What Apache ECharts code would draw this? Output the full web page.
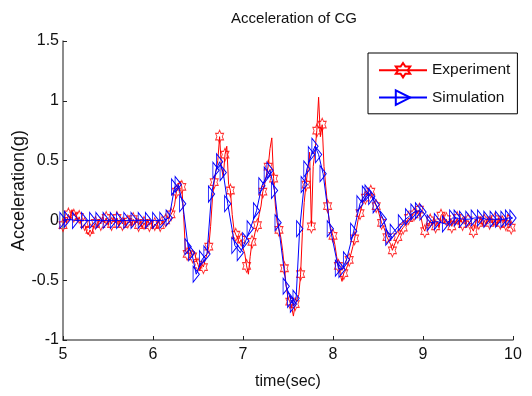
<!DOCTYPE html>
<html>
<head>
<meta charset="utf-8">
<script src="https://cdn.jsdelivr.net/npm/echarts@6/dist/echarts.min.js"></script>
<style>html,body{margin:0;padding:0;background:#fff}#c{width:532px;height:396px}</style>
</head>
<body>
<div id="c"></div>
<script>
// Experiment: sampled every 0.02 s starting at 5.00 s
const expStart = 5.0;
const expStep = 0.02;
const expValues = [
  -0.04,0.03,-0.02,0.05,0.02,0.09,0.04,0.06,-0.01,0.03,
  -0.03,-0.06,-0.03,-0.09,-0.12,-0.08,-0.11,-0.05,-0.02,-0.05,
  0.01,-0.03,0.03,-0.02,0.02,-0.04,0.01,-0.03,0.03,-0.02,
  0.02,-0.05,0.01,-0.03,0.02,-0.04,-0.01,0.02,-0.05,0.01,
  -0.03,0.02,-0.04,-0.01,-0.06,-0.02,-0.05,0.01,-0.04,-0.02,
  -0.06,-0.03,-0.05,-0.01,-0.04,-0.02,-0.03,0.00,-0.01,0.03,
  0.05,0.08,0.13,0.24,0.30,0.33,0.28,0.05,-0.25,-0.28,
  -0.22,-0.27,-0.30,-0.26,-0.33,-0.37,-0.42,-0.36,-0.39,-0.33,
  -0.28,-0.22,-0.05,0.18,0.32,0.42,0.50,0.70,0.45,0.36,
  0.55,0.62,0.30,0.25,0.05,-0.08,-0.12,-0.15,-0.19,-0.16,
  -0.23,-0.28,-0.38,-0.45,-0.30,-0.18,-0.15,-0.08,-0.04,0.05,
  0.12,0.24,0.30,0.38,0.45,0.60,0.69,0.35,0.12,-0.02,
  -0.08,-0.14,-0.25,-0.40,-0.55,-0.65,-0.68,-0.72,-0.80,-0.70,
  -0.66,-0.62,-0.45,-0.10,0.15,0.30,0.42,0.57,-0.05,0.45,
  0.58,0.75,1.03,0.70,0.80,0.45,0.28,0.12,-0.02,-0.08,
  -0.13,-0.20,-0.30,-0.38,-0.45,-0.51,-0.44,-0.42,-0.38,-0.33,
  -0.28,-0.22,-0.15,-0.08,0.01,0.06,0.12,0.16,0.19,0.24,
  0.21,0.24,0.19,0.20,0.12,0.09,0.03,-0.02,-0.05,-0.09,
  -0.14,-0.17,-0.20,-0.25,-0.21,-0.17,-0.14,-0.11,-0.08,-0.06,
  -0.04,-0.01,0.02,0.00,0.04,0.05,0.08,0.06,0.09,0.02,
  -0.06,-0.09,-0.03,-0.05,0.00,-0.04,0.02,-0.05,-0.01,-0.06,
  0.04,0.06,-0.02,0.01,-0.04,0.02,-0.05,0.00,-0.03,0.02,
  -0.04,0.01,-0.03,0.03,-0.02,0.00,-0.04,-0.06,-0.09,-0.03,
  0.01,-0.02,0.03,-0.04,0.00,-0.03,0.02,-0.02,0.03,-0.04,
  0.01,-0.05,0.02,-0.02,0.04,0.01,-0.03,0.05,0.03,-0.06,
  -0.08
];
const expMarkerEvery = 3;

// Simulation: solver output points
const simTime = [
  5.00,5.05,5.14,5.24,5.33,5.40,5.48,5.56,5.63,5.71,5.79,5.87,5.95,6.03,6.11,6.18,
  6.24,6.28,6.33,6.39,6.43,6.48,6.55,6.60,6.65,6.70,6.74,6.78,6.83,6.91,6.97,7.03,
  7.08,7.15,7.21,7.27,7.30,7.35,7.39,7.48,7.53,7.56,7.59,7.63,7.68,7.71,7.76,7.80,
  7.84,7.89,7.97,8.06,8.10,8.15,8.23,8.30,8.36,8.39,8.43,8.48,8.56,8.62,8.67,8.76,
  8.84,8.90,8.95,9.00,9.08,9.16,9.25,9.33,9.38,9.44,9.51,9.57,9.64,9.71,9.78,9.84,
  9.90,9.95,10.00
];
const simValues = [
  0.00,0.01,0.00,0.00,0.00,0.00,0.00,0.00,0.00,0.00,0.00,0.00,0.00,0.00,0.00,0.02,
  0.28,0.30,0.14,-0.22,-0.27,-0.45,-0.32,-0.28,0.22,0.42,0.49,0.40,0.14,-0.21,-0.27,-0.17,
  -0.07,0.08,0.29,0.38,0.42,0.25,-0.02,-0.55,-0.66,-0.70,-0.65,-0.07,0.30,0.43,0.55,0.62,
  0.55,0.39,-0.07,-0.40,-0.41,-0.33,-0.09,0.14,0.22,0.23,0.20,0.13,0.01,-0.14,-0.10,-0.02,
  0.03,0.07,0.08,0.07,-0.02,-0.01,-0.03,0.02,0.02,0.01,0.01,0.02,0.02,0.01,0.01,0.01,
  0.01,0.02,0.02
];

const xTicks = [5,6,7,8,9,10];
const yTicks = [-1,-0.5,0,0.5,1,1.5];
const titleText = 'Acceleration of CG';
const xName = 'time(sec)';
const yName = 'Acceleration(g)';
const seriesNames = ['Experiment','Simulation'];

const expData = expValues.map((v,i)=>[+(expStart + i*expStep).toFixed(2), v]);
const expMarkers = expData.filter((d,i)=> i % expMarkerEvery === 0);
const simData = simTime.map((t,i)=>[t, simValues[i]]);

const HEX = 'path://M50,0L66.67,40L100,40L83.33,80L100,120L66.67,120L50,160L33.33,120L0,120L16.67,80L0,40L33.33,40Z';
const TRI = 'path://M0,0L10,8L0,16Z';
const FONT = '"Liberation Sans",Arial,sans-serif';

const chart = echarts.init(document.getElementById('c'), null, {renderer:'canvas'});
chart.setOption({
  animation:false,
  backgroundColor:'#fff',
  title:{text:titleText,left:289,top:6,textAlign:'center',
    textStyle:{fontFamily:FONT,fontSize:15,fontWeight:'normal',color:'#111'}},
  legend:{
    data:seriesNames, orient:'vertical', left:368, top:53,
    padding:[9,7,8,10], itemWidth:48, itemHeight:18, itemGap:11,
    borderColor:'#000', borderWidth:1, backgroundColor:'#fff',
    textStyle:{fontFamily:FONT,fontSize:15.5,color:'#111'}
  },
  grid:{left:63,right:19,top:41,bottom:56,containLabel:false,outerBoundsMode:'none'},
  xAxis:{
    type:'value',min:xTicks[0],max:xTicks[xTicks.length-1],interval:1,
    name:xName,nameLocation:'middle',nameGap:34,nameMoveOverlap:false,
    nameTextStyle:{fontFamily:FONT,fontSize:16,color:'#111'},
    axisLine:{show:true,onZero:false,lineStyle:{color:'#666',width:1.5}},
    axisTick:{show:true,inside:true,length:4,lineStyle:{color:'#222'}},
    axisLabel:{fontFamily:FONT,fontSize:16,color:'#111',margin:7},
    splitLine:{show:false}
  },
  yAxis:{
    type:'value',min:yTicks[0],max:yTicks[yTicks.length-1],interval:0.5,
    name:yName,nameLocation:'middle',nameGap:35,nameMoveOverlap:false,
    nameTextStyle:{fontFamily:FONT,fontSize:18,color:'#111'},
    axisLine:{show:true,onZero:false,lineStyle:{color:'#666',width:1.5}},
    axisTick:{show:true,inside:true,length:4,lineStyle:{color:'#222'}},
    axisLabel:{fontFamily:FONT,fontSize:16,color:'#111',margin:4},
    splitLine:{show:false}
  },
  series:[
    {name:seriesNames[0],type:'line',data:expData,showSymbol:false,
     symbol:HEX,symbolSize:[8,13],symbolKeepAspect:true,
     lineStyle:{color:'#ff0000',width:1},
     itemStyle:{color:'rgba(255,255,255,0)',borderColor:'#ff0000',borderWidth:1},
     emphasis:{disabled:true},z:2},
    {name:'expMarkers',type:'scatter',data:expMarkers,
     symbol:HEX,symbolSize:[8,13],
     itemStyle:{color:'rgba(255,255,255,0)',borderColor:'#ff0000',borderWidth:1},
     emphasis:{disabled:true},z:3},
    {name:seriesNames[1],type:'line',data:simData,showSymbol:true,showAllSymbol:true,
     symbol:TRI,symbolSize:[10,16],symbolKeepAspect:true,
     lineStyle:{color:'#0000ff',width:1},
     itemStyle:{color:'rgba(255,255,255,0)',borderColor:'#0000ff',borderWidth:1},
     emphasis:{disabled:true},z:4}
  ]
});
</script>
</body>
</html>
